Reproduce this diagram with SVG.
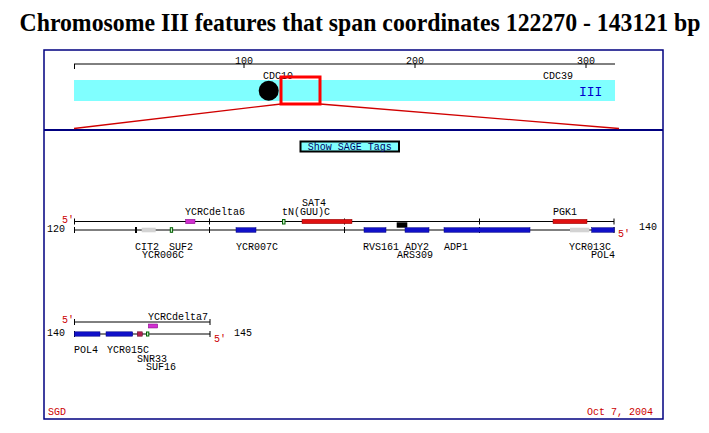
<svg xmlns="http://www.w3.org/2000/svg" width="709" height="433" viewBox="0 0 709 433">
<style>
.t{font-family:"Liberation Mono","DejaVu Sans Mono",monospace;font-size:10px;fill:#000}
.r{fill:#cc0000}
.ln{stroke:#000;stroke-width:1;fill:none}
.blue{fill:#1010c8;stroke:#000080;stroke-width:0.5}
.red{fill:#e01010;stroke:#900000;stroke-width:0.5}
.mag{fill:#d030d0;stroke:#800080;stroke-width:0.5}
.gray{fill:#d3d3d3}
.grn{fill:#c8f0c8;stroke:#006000;stroke-width:1}
.blk{fill:#000}
.mar{fill:#b02050;stroke:#600020;stroke-width:0.5}
</style>
<rect width="709" height="433" fill="#fff"/>
<text x="360" y="31" text-anchor="middle" font-family="Liberation Serif,serif" font-weight="bold" font-size="26" textLength="681" lengthAdjust="spacingAndGlyphs">Chromosome III features that span coordinates 122270 - 143121 bp</text>
<g id="frame">
<rect x="44" y="50" width="619" height="369" fill="none" stroke="#000080" stroke-width="1.5"/>
<line x1="44" y1="130" x2="663" y2="130" stroke="#000080" stroke-width="2"/>
</g>
<g id="chromosome-overview">
<line class="ln" x1="74" y1="64" x2="615" y2="64"/>
<line class="ln" x1="74.5" y1="64" x2="74.5" y2="69"/>
<line class="ln" x1="244" y1="64" x2="244" y2="68"/>
<line class="ln" x1="415" y1="64" x2="415" y2="68"/>
<line class="ln" x1="586" y1="64" x2="586" y2="68"/>
<text class="t" x="244" y="64" text-anchor="middle">100</text>
<text class="t" x="415" y="64" text-anchor="middle">200</text>
<text class="t" x="586" y="64" text-anchor="middle">300</text>
<rect x="74" y="80" width="541" height="21" fill="#80ffff"/>
<text x="579" y="96" font-family="Liberation Mono,monospace" font-size="13" fill="#0000cc">III</text>
<circle cx="268.7" cy="90.7" r="10" fill="#000"/>
<text class="t" x="263" y="79">CDC10</text>
<text class="t" x="543" y="79">CDC39</text>
<line x1="281" y1="104" x2="74" y2="128.5" stroke="#d00000" stroke-width="1.3"/>
<line x1="320" y1="104" x2="619" y2="128.5" stroke="#d00000" stroke-width="1.3"/>
<rect x="281" y="77" width="39" height="27" fill="none" stroke="#ff0000" stroke-width="3"/>
</g>
<g id="sage-button">
<rect x="300.5" y="141.5" width="98.5" height="10" fill="#80ffff" stroke="#000" stroke-width="2"/>
<text class="t" x="349.8" y="150" text-anchor="middle" style="fill:#000060">Show SAGE Tags</text>
</g>
<g id="connectors">
<line class="ln" x1="74" y1="221.5" x2="614" y2="221.5"/>
<line class="ln" x1="74" y1="230" x2="614" y2="230"/>
<path class="ln" d="M74.5 218.5v6M614 218.5v6M209.5 218.5v6M344.5 218.5v6M479.5 218.5v6M74.5 227v6M614 227v6M209.5 227v6M344.5 227v6M479.5 227v6"/>
<line class="ln" x1="74" y1="322" x2="210" y2="322"/>
<line class="ln" x1="74" y1="334" x2="210" y2="334"/>
<path class="ln" d="M74.5 319v6M210 319v6M74.5 331v6M210 331v6"/>
</g>
<g id="row1">
<text class="t r" x="62" y="222.5">5'</text>
<text class="t" x="47" y="232">120</text>
<text class="t r" x="618" y="237">5'</text>
<text class="t" x="639" y="230">140</text>
<g id="YCRCdelta6"><rect class="mag" x="185.7" y="219.3" width="9.3" height="4.4"/><text class="t" x="185" y="215">YCRCdelta6</text></g>
<g id="tNGUUC"><rect class="grn" x="282.5" y="219.5" width="2.5" height="4.5"/><text class="t" x="282" y="215">tN(GUU)C</text></g>
<g id="SAT4"><rect class="red" x="302" y="219.3" width="50" height="4.4"/><text class="t" x="302" y="206">SAT4</text></g>
<g id="PGK1"><rect class="red" x="553" y="219.3" width="34" height="4.4"/><text class="t" x="553" y="215">PGK1</text></g>
<g id="CIT2"><rect class="blk" x="135" y="227" width="2" height="6"/><text class="t" x="135" y="249.5">CIT2</text></g>
<g id="YCR006C"><rect class="gray" x="141.7" y="227.7" width="14" height="4.6"/><text class="t" x="142" y="257.5">YCR006C</text></g>
<g id="SUF2"><rect class="grn" x="170.3" y="227.7" width="2.3" height="4.6"/><text class="t" x="169" y="249.5">SUF2</text></g>
<g id="YCR007C"><rect class="blue" x="236" y="227.7" width="20" height="4.6"/><text class="t" x="236" y="249.5">YCR007C</text></g>
<g id="RVS161"><rect class="blue" x="364" y="227.7" width="22" height="4.6"/><text class="t" x="363" y="249.5">RVS161</text></g>
<g id="ARS309"><rect class="blk" x="396.7" y="222.3" width="10.6" height="5.4"/><text class="t" x="397" y="257.5">ARS309</text></g>
<g id="ADY2"><rect class="blue" x="405" y="227.7" width="24" height="4.6"/><text class="t" x="405" y="249.5">ADY2</text></g>
<g id="ADP1"><rect class="blue" x="444" y="227.7" width="86" height="4.6"/><text class="t" x="444" y="249.5">ADP1</text></g>
<g id="YCR013C"><rect class="gray" x="570" y="227.7" width="19.3" height="4.6"/><text class="t" x="569" y="249.5">YCR013C</text></g>
<g id="POL4a"><rect class="blue" x="591.7" y="227.7" width="22.6" height="4.6"/><text class="t" x="591" y="257.5">POL4</text></g>
</g>
<g id="row2">
<text class="t r" x="62" y="322.5">5'</text>
<text class="t" x="47" y="335.5">140</text>
<text class="t r" x="214" y="341.5">5'</text>
<text class="t" x="234" y="335.5">145</text>
<g id="YCRCdelta7"><rect class="mag" x="148.3" y="324" width="9.4" height="4"/><text class="t" x="148" y="320">YCRCdelta7</text></g>
<g id="POL4b"><rect class="blue" x="74.3" y="331.8" width="25.7" height="4.4"/><text class="t" x="74" y="353">POL4</text></g>
<g id="YCR015C"><rect class="blue" x="106" y="331.8" width="26.7" height="4.4"/><text class="t" x="107" y="353">YCR015C</text></g>
<g id="SNR33"><rect class="mar" x="137.3" y="331.8" width="5" height="4.4"/><text class="t" x="137" y="361.5">SNR33</text></g>
<g id="SUF16"><rect class="grn" x="146.5" y="332" width="2.3" height="4"/><text class="t" x="146" y="370">SUF16</text></g>
</g>
<g id="footer">
<text class="t r" x="48" y="415">SGD</text>
<text class="t r" x="587" y="415">Oct 7, 2004</text>
</g>
</svg>
